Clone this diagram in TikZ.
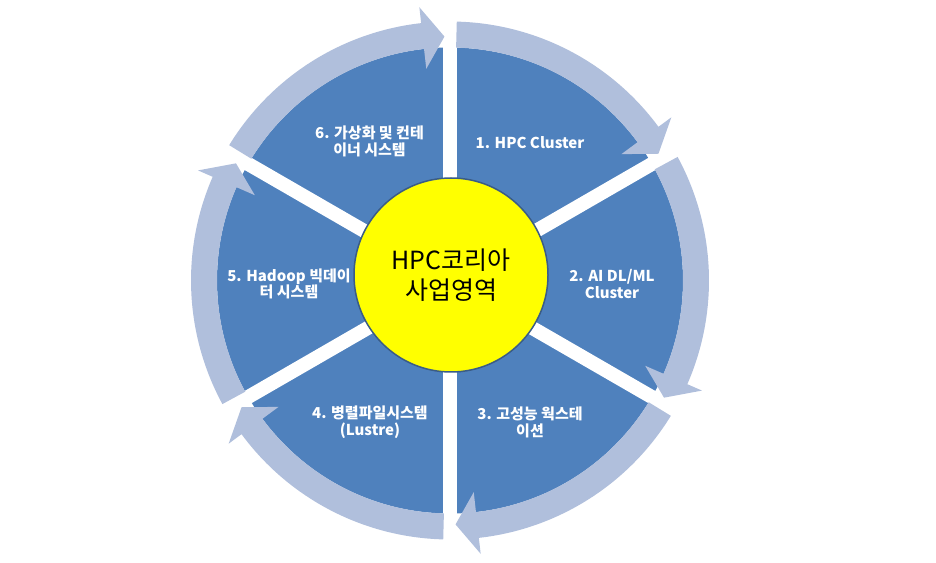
\documentclass[tikz,border=0pt]{standalone}
\usepackage{fontspec}
\setmainfont{Noto Sans CJK KR}
\definecolor{pieblue}{RGB}{79,129,189}
\definecolor{ringblue}{RGB}{176,191,220}
\definecolor{rimblue}{RGB}{58,92,134}
\definecolor{hubyellow}{RGB}{255,255,0}
\tikzset{
  seglabel/.style={text=white, font=\bfseries\fontsize{15}{16.5}\selectfont, align=center, inner sep=0pt},
  hublabel/.style={text=black, font=\fontsize{25}{30}\selectfont, align=center, inner sep=0pt}
}
\begin{document}
\begin{tikzpicture}[x=1pt, y=1pt]
  \useasboundingbox (0,0) rectangle (936,562);
  \coordinate (C) at (450, 281.5);

  \fill[pieblue] (C) circle (233);
  \foreach \a in {90,30,-30,-90,-150,150}
    \draw[white, line width=14pt] (C) -- ([shift={(C)}]\a:236);

  \foreach \k in {0,...,5} {
    \pgfmathsetmacro{\s}{90-60*\k-1.5}
    \pgfmathsetmacro{\t}{90-60*(\k+1)+1.3}
    \pgfmathsetmacro{\b}{\t+5.1}
    \fill[ringblue] ([shift={(C)}]\s:259) arc[start angle=\s, end angle=\b, radius=259]
      -- ([shift={(C)}]\b:275) -- ([shift={(C)}]\t:244) -- ([shift={(C)}]\b:213)
      -- ([shift={(C)}]\b:233) arc[start angle=\b, end angle=\s, radius=233] -- cycle;
  }

  \node[circle, fill=hubyellow, draw=rimblue, line width=1.5pt, minimum size=194pt, inner sep=0pt] (hub) at (451, 287) {};
  \node[hublabel] (hubtext) at (hub) {HPC코리아\\사업영역};

  \node[seglabel] (l1) at (530, 419) {1. HPC Cluster};
  \node[seglabel] (l2) at (612, 278) {2. AI DL/ML\\Cluster};
  \node[seglabel] (l3) at (530, 139.5) {3. 고성능 웍스테\\이션};
  \node[seglabel] (l4) at (370, 140) {4. 병렬파일시스템\\(Lustre)};
  \node[seglabel] (l5) at (289, 278) {5. Hadoop 빅데이\\터 시스템};
  \node[seglabel] (l6) at (369.5, 420.5) {6. 가상화 및 컨테\\이너 시스템};
\end{tikzpicture}
\end{document}
